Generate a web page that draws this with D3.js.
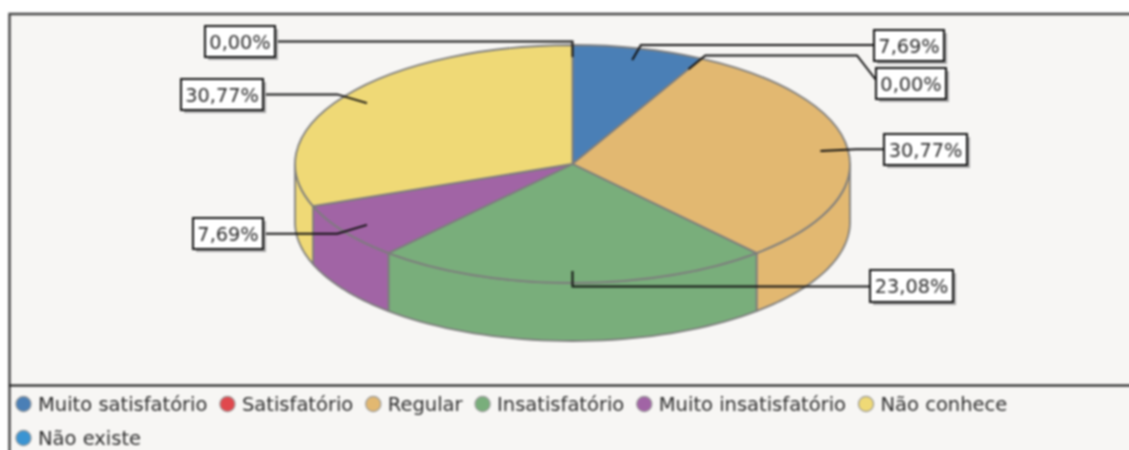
<!DOCTYPE html>
<html><head><meta charset="utf-8">
<script src="https://cdn.jsdelivr.net/npm/d3@7"></script>
<style>html,body{margin:0;padding:0;background:#fff;overflow:hidden}svg{display:block;font-family:"DejaVu Sans",sans-serif;filter:blur(0.8px)}</style>
</head><body><svg id="c" width="1145" height="466"></svg>
<script>
const categories = ["Muito satisfatório","Satisfatório","Regular","Insatisfatório","Muito insatisfatório","Não conhece","Não existe"];
const values = [7.69,0,30.77,23.08,7.69,30.77,0];
const colors = ["#4a7fb6","#e0484d","#e2b871","#79ae7b","#a164a5","#efd976","#3a94d2"];
const labelTexts = ["7,69%","0,00%","30,77%","23,08%","7,69%","30,77%","0,00%"];

// layout only
const W=1145,H=466, cx=572.5, cy=164, rx=277.5, ry=119, depth=58;
const boxes = [[874,30,70,31],[876,68,70,31],[884,134,83,31],[870,270,83,32],[193,218,70,31],[181,79,82,31],[205,26,70,31]];
const legendY=[404,438];

const svg=d3.select("#c");
const root=svg.append("g");
root.append("rect").attr("width",W).attr("height",H).attr("fill","#fff");
root.append("rect").attr("x",9).attr("y",14).attr("width",W).attr("height",H).attr("fill","#f7f6f4");
root.append("path").attr("d",`M9.5,${H}V14H${W}`).attr("fill","none").attr("stroke","#444").attr("stroke-width",2.4);
root.append("line").attr("x1",9).attr("x2",W).attr("y1",385.5).attr("y2",385.5).attr("stroke","#111").attr("stroke-width",2);

const pie=d3.pie().sort(null).value(d=>d)(values);
const X=d3.scaleLinear().domain([-1,1]).range([cx-rx,cx+rx]);
const Y=d3.scaleLinear().domain([-1,1]).range([cy-ry,cy+ry]);
const pt=(a,f=1)=>[X(Math.sin(a)*f),Y(-Math.cos(a)*f)];

// side walls: only the front half of the ellipse is visible
const PI=Math.PI, wall=d3.line();
const walls=pie.map((p,i)=>({i,a0:Math.max(p.startAngle,PI/2),a1:Math.min(p.endAngle,3*PI/2)})).filter(w=>w.a1>w.a0);
root.selectAll("path.wall").data(walls).join("path").attr("class","wall")
  .attr("d",w=>{
    const steps=d3.range(0,41).map(k=>w.a0+(w.a1-w.a0)*k/40);
    const top=steps.map(a=>pt(a));
    const bot=steps.slice().reverse().map(a=>{const q=pt(a);return [q[0],q[1]+depth];});
    return wall(top.concat(bot))+"Z";
  })
  .attr("fill",w=>colors[w.i]).attr("stroke","#7d7d7d").attr("stroke-width",1.8).attr("stroke-linejoin","round");

// top face
const arc=d3.arc().innerRadius(0).outerRadius(rx);
root.append("g").attr("transform",`translate(${cx},${cy}) scale(1,${ry/rx})`)
  .selectAll("path").data(pie.filter(p=>p.value>0)).join("path")
  .attr("d",arc).attr("fill",p=>colors[p.index])
  .attr("stroke","#7d7d7d").attr("stroke-width",1.8).attr("vector-effect","non-scaling-stroke");

// leaders
const leader=d3.line();
const leaders=pie.map((p,i)=>{
  const mid=(p.startAngle+p.endAngle)/2, b=boxes[i];
  const a=pt(mid,0.9), e=pt(mid,1.03);
  const right=b[0]>cx;
  const edge=right?b[0]:b[0]+b[2];
  const ly=b[1]+b[3]/2;
  if(Math.abs(e[1]-ly)>8) return [a,e,[857,e[1]],[edge,b[1]+12]];
  return [a,e,[edge,e[1]]];
});
root.selectAll("path.leader").data(leaders).join("path").attr("class","leader")
  .attr("d",leader).attr("fill","none").attr("stroke","#111").attr("stroke-width",2);

// label boxes
const lab=root.selectAll("g.lab").data(labelTexts).join("g").attr("class","lab");
lab.append("rect").attr("x",(d,i)=>boxes[i][0]+3).attr("y",(d,i)=>boxes[i][1]+3)
  .attr("width",(d,i)=>boxes[i][2]).attr("height",(d,i)=>boxes[i][3]).attr("fill","#a8a8a8");
lab.append("rect").attr("x",(d,i)=>boxes[i][0]).attr("y",(d,i)=>boxes[i][1])
  .attr("width",(d,i)=>boxes[i][2]).attr("height",(d,i)=>boxes[i][3])
  .attr("fill","#fff").attr("stroke","#111").attr("stroke-width",2);
lab.append("text").attr("x",(d,i)=>boxes[i][0]+boxes[i][2]/2).attr("y",(d,i)=>boxes[i][1]+boxes[i][3]/2+7.2)
  .attr("text-anchor","middle").attr("font-size",19.3).attr("fill","#2c2c2c").text(d=>d);

// legend, flowing left to right
let lx=23.5;
categories.forEach((c,i)=>{
  const row=i===6?1:0;
  if(i===6) lx=23.5;
  const g=root.append("g");
  g.append("circle").attr("cx",lx).attr("cy",legendY[row]).attr("r",7.6)
    .attr("fill",colors[i]).attr("stroke","#999").attr("stroke-width",1.2);
  const t=g.append("text").attr("x",lx+14.5).attr("y",legendY[row]+7).attr("font-size",19.5).attr("fill","#2c2c2c").text(c);
  lx+=14.5+t.node().getComputedTextLength()+20;
});
</script></body></html>
